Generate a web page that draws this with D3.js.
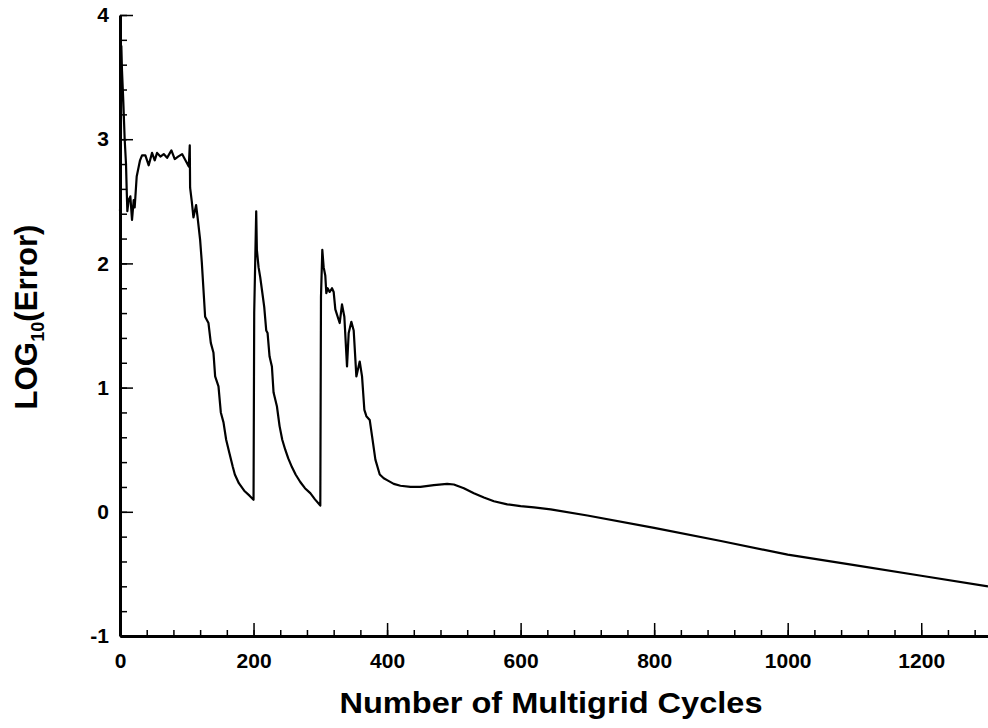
<!DOCTYPE html>
<html>
<head>
<meta charset="utf-8">
<script src="https://cdn.jsdelivr.net/npm/d3@7"></script>
<style>
	body { margin: 0; background: #fff; }
	svg { display: block; }
	text { font-family: "Liberation Sans", Arial, sans-serif; font-weight: bold; fill: #000; }
</style>
</head>
<body>
<div id="chart"></div>
<script>
// residual history
const cycles = [
	0, 1, 2, 3, 5, 7, 9, 10, 11, 13, 15.5, 18, 20.5, 22, 25, 30, 33,
	38, 43, 48, 52, 55.5, 60.5, 65.5, 70.5, 77, 82, 87, 93, 99, 103, 104.5,
	105, 107.5, 110, 114, 116, 120, 122.5, 125, 127.5, 132.5, 136, 140, 142.5, 147.5,
	151, 155, 159, 164, 169, 172, 178, 186, 194, 200,
	201, 204, 205, 207.5, 210, 212.5, 216, 219, 221, 224, 227.5, 230, 235, 239,
	243, 247.5, 252, 257.5, 263, 270, 277, 285, 292, 300,
	301, 303, 305, 307.5, 309, 311, 314, 317.5, 320, 322.5, 329, 332.5, 336, 340,
	342.5, 346.5, 350, 354, 359, 362.5, 366, 369, 374, 377.5, 382.5, 389, 395, 400,
	410, 420, 435, 450, 470, 490, 500, 515, 530, 545, 560, 580, 600, 620, 645,
	700, 800, 900, 1000, 1100, 1200, 1300
];
const logError = [
	2.42, 2.6, 3.75, 3.55, 3.3, 3.0, 2.8, 2.6, 2.42, 2.51, 2.54, 2.35, 2.51, 2.45, 2.7, 2.83, 2.87,
	2.87, 2.79, 2.89, 2.83, 2.89, 2.86, 2.88, 2.85, 2.91, 2.84, 2.86, 2.88, 2.82, 2.78, 2.95,
	2.61, 2.50, 2.37, 2.47, 2.38, 2.19, 2.01, 1.79, 1.57, 1.52, 1.36, 1.28, 1.09, 1.01,
	0.80, 0.72, 0.58, 0.47, 0.36, 0.30, 0.23, 0.17, 0.13, 0.097,
	1.6, 2.42, 2.11, 1.97, 1.89, 1.79, 1.65, 1.46, 1.44, 1.25, 1.17, 0.96, 0.85, 0.69,
	0.58, 0.50, 0.43, 0.36, 0.30, 0.24, 0.19, 0.15, 0.10, 0.05,
	1.73, 2.11, 1.97, 1.90, 1.76, 1.80, 1.77, 1.80, 1.77, 1.63, 1.52, 1.67, 1.57, 1.17,
	1.44, 1.53, 1.46, 1.09, 1.21, 1.09, 0.82, 0.77, 0.74, 0.61, 0.42, 0.30, 0.27, 0.255,
	0.225, 0.21, 0.20, 0.20, 0.215, 0.225, 0.22, 0.19, 0.15, 0.115, 0.085, 0.06, 0.045, 0.035, 0.02,
	-0.03, -0.13, -0.235, -0.345, -0.43, -0.515, -0.60
];
const xMajorTicks = [0, 200, 400, 600, 800, 1000, 1200];
const yMajorTicks = [-1, 0, 1, 2, 3, 4];

const width = 988, height = 728;
const margins = { left: 120, right: 0, top: 15, bottom: 92 };

const svg = d3.select('#chart').append('svg')
	.attr('width', width)
	.attr('height', height);

const x = d3.scaleLinear()
	.domain([0, 1300])
	.range([margins.left, width - margins.right]);

const y = d3.scaleLinear()
	.domain([-1, 4])
	.range([height - margins.bottom, margins.top]);

const data = cycles.map((c, i) => ({ x: c, y: logError[i] }));

// minor ticks first, then the major ones with labels
svg.append('g')
	.attr('transform', 'translate(0,' + y(-1) + ')')
	.call(d3.axisBottom(x).tickValues(d3.range(0, 1301, 40)).tickSize(-6).tickFormat(''))
	.call(g => g.select('.domain').remove())
	.selectAll('line').attr('stroke-width', 1.5);

svg.append('g')
	.attr('transform', 'translate(' + x(0) + ',0)')
	.call(d3.axisLeft(y).tickValues(d3.range(-1, 4.01, 0.2)).tickSize(-7).tickFormat(''))
	.call(g => g.select('.domain').remove())
	.selectAll('line').attr('stroke-width', 1.5);

const xAxis = svg.append('g')
	.attr('transform', 'translate(0,' + y(-1) + ')')
	.call(d3.axisBottom(x).tickValues(xMajorTicks).tickSizeInner(-13).tickSizeOuter(0)
		.tickPadding(17).tickFormat(d => String(d)));
xAxis.select('.domain').attr('stroke-width', 3);
xAxis.selectAll('line').attr('stroke-width', 1.5);
xAxis.selectAll('text').style('font-size', '21px');

const yAxis = svg.append('g')
	.attr('transform', 'translate(' + x(0) + ',0)')
	.call(d3.axisLeft(y).tickValues(yMajorTicks).tickSizeInner(-13).tickSizeOuter(0)
		.tickPadding(11).tickFormat(d => String(d)));
yAxis.select('.domain').attr('stroke-width', 3);
yAxis.selectAll('line').attr('stroke-width', 1.5);
yAxis.selectAll('text').style('font-size', '21px');

svg.append('path')
	.datum(data)
	.attr('fill', 'none')
	.attr('stroke', '#000')
	.attr('stroke-width', 2.2)
	.attr('stroke-linejoin', 'round')
	.attr('d', d3.line().x(d => x(d.x)).y(d => y(d.y)));

svg.append('text')
	.attr('x', 551)
	.attr('y', 713)
	.attr('text-anchor', 'middle')
	.attr('textLength', 423)
	.attr('lengthAdjust', 'spacingAndGlyphs')
	.style('font-size', '30px')
	.text('Number of Multigrid Cycles');

const yLabel = svg.append('text')
	.attr('transform', 'translate(37,317) rotate(-90)')
	.attr('text-anchor', 'middle')
	.attr('textLength', 185)
	.attr('lengthAdjust', 'spacingAndGlyphs')
	.style('font-size', '31px');
yLabel.append('tspan').text('LOG');
yLabel.append('tspan').attr('dy', 7).style('font-size', '18px').text('10');
yLabel.append('tspan').attr('dy', -7).text('(Error)');
</script>
</body>
</html>
